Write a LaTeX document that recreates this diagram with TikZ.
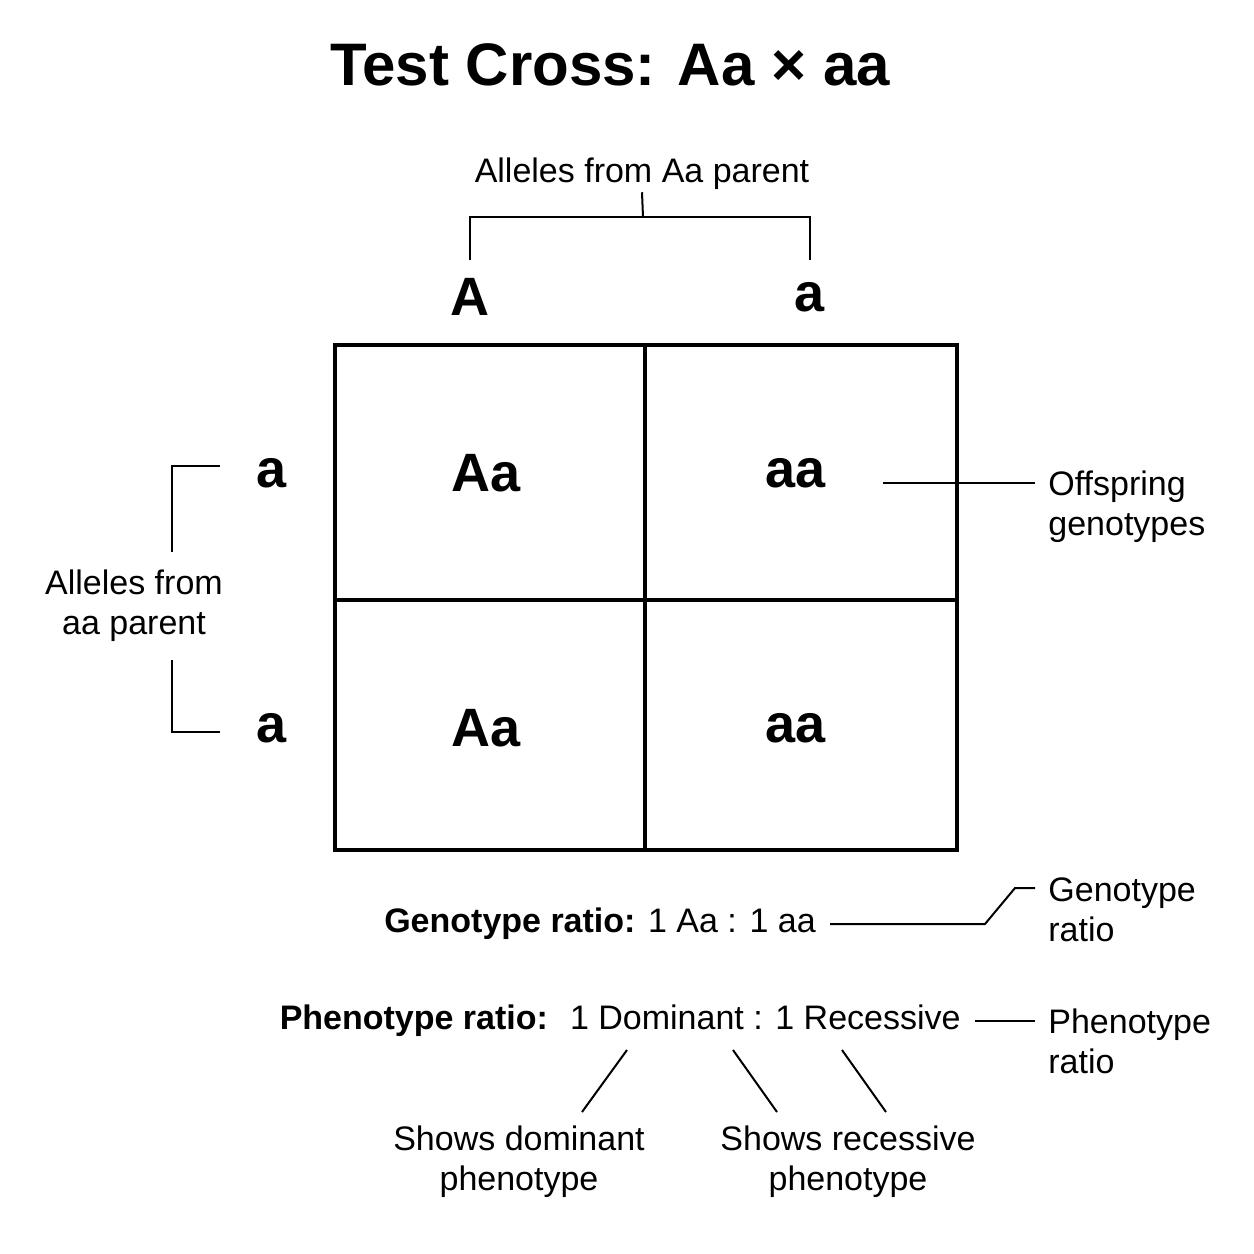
\documentclass[tikz,border=0pt]{standalone}
\usepackage{fontspec}
\setmainfont{Liberation Sans}
\usetikzlibrary{positioning}
\tikzset{
  lbl/.style={font=\fontsize{17}{20}\selectfont, align=center, inner sep=1pt},
  side/.style={lbl, align=left, anchor=west},
  big/.style={font=\fontsize{27}{30}\selectfont\bfseries},
  conn/.style={line width=1pt}
}
\begin{document}
\begin{tikzpicture}[x=0.5pt, y=-0.5pt]
	\useasboundingbox (0,0) rectangle (1254,1254);

	\node[font=\fontsize{30}{34}\selectfont\bfseries] (title) at (610,65) {Test Cross: Aa × aa};

	% punnett square
	\draw[line width=1.6pt] (335,345) rectangle (957,850);
	\draw[line width=1.6pt] (645,345) -- (645,850);
	\draw[line width=1.6pt] (335,600) -- (957,600);

	\node[big] (colA) at (470,297) {A};
	\node[big] (cola) at (810,297) {a};
	\node[big] (rowa1) at (272,473) {a};
	\node[big] (rowa2) at (272,728) {a};
	\node[big] (c11) at (486,473) {Aa};
	\node[big] (c12) at (796,473) {aa};
	\node[big] (c21) at (486,728) {Aa};
	\node[big] (c22) at (796,728) {aa};

	% labels
	\node[lbl] (top) at (642,174) {Alleles from Aa parent};
	\node[lbl] (left) at (134,606) {Alleles from\\aa parent};
	\node[side] (off) at (1046,507) {Offspring\\genotypes};
	\node[side] (gen) at (1046,910) {Genotype\\ratio};
	\node[side] (phe) at (1046,1041) {Phenotype\\ratio};
	\node[lbl] (genr) at (600,924) {\textbf{Genotype ratio:} 1 Aa : 1 aa};
	\node[lbl, anchor=east] (pher) at (963,1021) {\textbf{Phenotype ratio:}\; 1 Dominant : 1 Recessive};
	\node[lbl] (dom) at (519,1162) {Shows dominant\\phenotype};
	\node[lbl] (rec) at (848,1162) {Shows recessive\\phenotype};

	% connectors
	\draw[conn] (top.south) -- (643,217) coordinate (tb);
	\draw[conn] (470,260) -- (470,217) -- (810,217) -- (810,260);
	\draw[conn] (220,466) -- (172,466) -- (172,552);
	\draw[conn] (172,660) -- (172,732) -- (220,732);
	\draw[conn] (883,483) -- (1035,483);
	\draw[conn] (genr.east) ++(12,0) -- (985,924) -- (1015,888) -- (1035,888);
	\draw[conn] (pher.east) ++(12,0) -- (1035,1021);
	\draw[conn] (627,1050) -- (582,1112);
	\draw[conn] (733,1050) -- (777,1112);
	\draw[conn] (842,1050) -- (886,1112);
\end{tikzpicture}
\end{document}
